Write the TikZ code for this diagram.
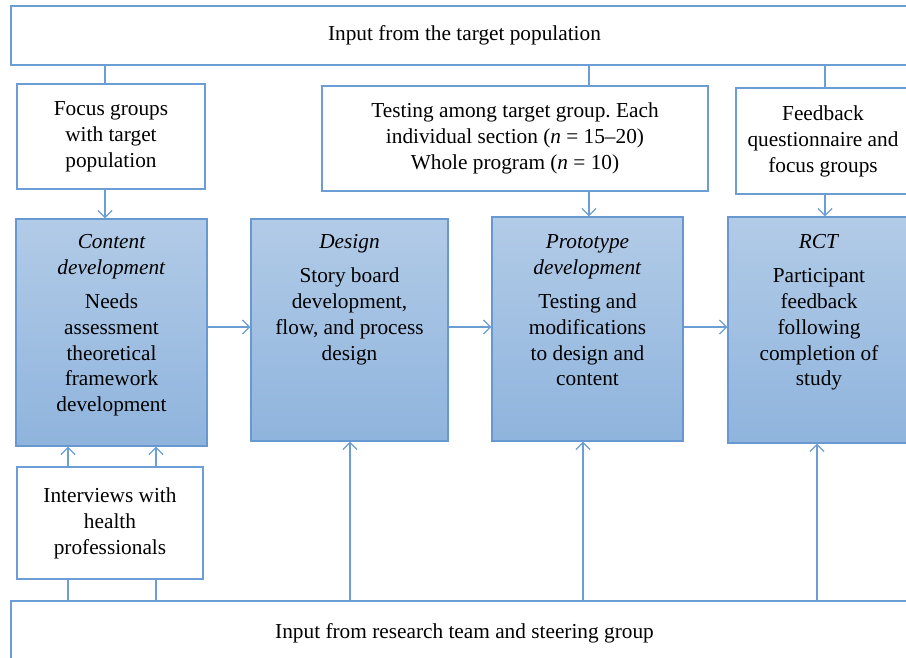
\documentclass[tikz,border=0pt]{standalone}
\usepackage{fontspec}
\setmainfont{Liberation Serif}
\usetikzlibrary{arrows.meta}

\definecolor{lineBlue}{RGB}{108,157,212}
\definecolor{stageTop}{RGB}{178,203,231}
\definecolor{stageBottom}{RGB}{143,180,221}
\definecolor{stageBorder}{RGB}{104,152,208}

\tikzset{
	plainbox/.style={draw=lineBlue, line width=1.3pt, fill=white, inner sep=0pt, align=center},
	stagebox/.style={draw=stageBorder, line width=1.3pt, top color=stageTop, bottom color=stageBottom, inner sep=0pt},
	link/.style={draw=lineBlue, line width=1.3pt},
	arrowlink/.style={link, -{Straight Barb[length=7pt,width=14pt]}}
}

% text hung from the top of a box: height, width, first baseline, text
\newcommand{\topText}[4]{\parbox[t][#1pt][t]{#2pt}{\centering\rule{0pt}{#3pt}#4}}

\frenchspacing

\begin{document}
\begin{tikzpicture}[x=1pt, y=-1pt, font=\fontsize{21.3}{26}\selectfont]
		\newcommand{\headGap}{8pt}
		
		\clip (0,0) rectangle (906,658);		% page
		
		% input boxes
		\node[plainbox, minimum width=907pt, minimum height=59pt] (top) at (464.5,35.5) {Input from the target population};
		\node[plainbox, minimum width=907pt, minimum height=64pt] (bottom) at (464.5,633) {Input from research team and steering group};
		
		\node[plainbox] (focus) at (111,136.5) {\topText{105}{188}{32}{Focus groups\\with target\\population}};
		\node[plainbox] (testing) at (515,138.5) {\topText{105}{386}{32}{Testing among target group. Each\\individual section (\textit{n} = 15--20)\\Whole program (\textit{n} = 10)}};
		\node[plainbox] (feedback) at (823,141) {\topText{106}{174}{33}{Feedback\\questionnaire and\\focus groups}};
		\node[plainbox, minimum width=186pt, minimum height=112pt] (interviews) at (110,523) {Interviews with\\health\\professionals};
		
		% stages
		\node[stagebox] (content) at (111.5,332.5) {\topText{227}{191}{29}{\textit{Content\\development}\par\vspace{\headGap}Needs\\assessment\\theoretical\\framework\\development}};
		\node[stagebox] (design) at (349.5,330) {\topText{222}{197}{29}{\textit{Design}\par\vspace{\headGap}Story board\\development,\\flow, and process\\design}};
		\node[stagebox] (proto) at (587.5,329) {\topText{224}{191}{31}{\textit{Prototype\\development}\par\vspace{\headGap}Testing and\\modifications\\to design and\\content}};
		\node[stagebox] (rct) at (819,330) {\topText{226}{182}{31}{\textit{RCT}\par\vspace{\headGap}Participant\\feedback\\following\\completion of\\study}};
		
		% links from the target population
		\foreach \inBox/\stage/\xLink in {focus/content/105, testing/proto/589, feedback/rct/825} {
			\coordinate (down) at (\xLink,0);
			\draw[link] (top.south -| down) -- (\inBox.north -| down);
			\draw[arrowlink] (\inBox.south -| down) -- (\stage.north -| down);
		}
		
		% flow between stages
		\coordinate (flowLevel) at (0,327);
		\draw[arrowlink] (content.east |- flowLevel) -- (design.west |- flowLevel);
		\draw[arrowlink] (design.east |- flowLevel) -- (proto.west |- flowLevel);
		\draw[arrowlink] (proto.east |- flowLevel) -- (rct.west |- flowLevel);
		
		% interviews
		\foreach \xLink in {68,156} {
			\coordinate (up) at (\xLink,0);
			\draw[link] (bottom.north -| up) -- (interviews.south -| up);
			\draw[arrowlink] (interviews.north -| up) -- (content.south -| up);
		}
		
		% links from research team
		\foreach \stage/\xLink in {design/350, proto/583, rct/817} {
			\coordinate (up) at (\xLink,0);
			\draw[arrowlink] (bottom.north -| up) -- (\stage.south -| up);
		}
\end{tikzpicture}
\end{document}
